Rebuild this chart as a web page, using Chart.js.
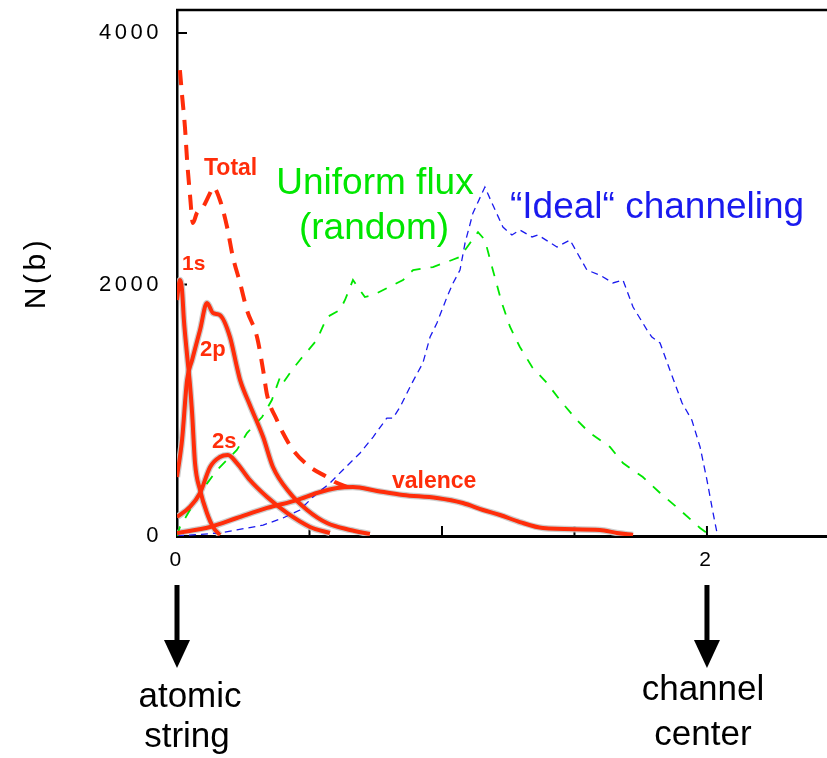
<!DOCTYPE html>
<html><head><meta charset="utf-8">
<script src="https://cdn.jsdelivr.net/npm/chart.js@4/dist/chart.umd.min.js"></script>
<style>html,body{margin:0;padding:0;background:#fff;}#wrap{width:827px;height:758px;}canvas{display:block;}</style>
</head><body><div id="wrap"><canvas id="c" width="827" height="758"></canvas></div>
<script>
// ---- data ----
const xTicks = [0, 0.5, 1, 1.5, 2];
const xTickLabels = ['0', '', '', '', '2'];
const yTicks = [0, 2000, 4000];
const yTickLabels = ['0', '2000', '4000'];

const uniformX = [0,0.011,0.087,0.151,0.226,0.264,0.321,0.358,0.389,0.4,0.434,0.464,0.528,0.566,0.615,0.634,0.664,0.709,0.74,0.815,0.853,0.891,0.966,1.038,1.068,1.106,1.136,1.162,1.192,1.226,1.257,1.294,1.34,1.396,1.445,1.509,1.558,1.634,1.683,1.758,1.823,1.898,1.974,2.0];
const uniformY = [0,72,342,525,684,819,946,1081,1264,1217,1320,1400,1559,1741,1797,1877,2036,1900,1916,1996,2036,2115,2139,2195,2219,2330,2417,2354,2115,1853,1662,1503,1344,1217,1081,922,819,708,580,469,342,207,64,24];

const idealX = [0,0.162,0.226,0.325,0.4,0.464,0.513,0.577,0.626,0.691,0.74,0.792,0.815,0.842,0.887,0.928,0.955,0.981,1.019,1.042,1.068,1.087,1.117,1.162,1.192,1.23,1.264,1.294,1.34,1.362,1.434,1.483,1.547,1.596,1.645,1.683,1.721,1.774,1.792,1.823,1.86,1.906,1.943,1.974,2.0,2.023,2.038];
const idealY = [0,24,48,87,143,207,310,421,525,660,787,938,938,1026,1217,1376,1582,1694,1901,2012,2115,2330,2569,2775,2632,2457,2394,2433,2378,2394,2298,2354,2115,2075,2012,2036,1821,1638,1582,1535,1320,1058,922,708,445,183,24];

const totalX = [0.011,0.019,0.03,0.038,0.049,0.06,0.075,0.098,0.125,0.136,0.162,0.189,0.211,0.238,0.264,0.302,0.325,0.34,0.377,0.4,0.438,0.502,0.566,0.596,0.653];
const totalY = [3705,3507,3252,2990,2712,2489,2569,2616,2728,2775,2672,2457,2219,2012,1797,1582,1320,1121,922,819,684,549,469,429,382];

const s1X = [0,0.011,0.019,0.026,0.038,0.049,0.057,0.068,0.087,0.113,0.136,0.162];
const s1Y = [1877,2036,1956,1718,1439,1201,978,580,366,183,72,8];

const p2X = [0,0.019,0.038,0.057,0.087,0.113,0.136,0.162,0.2,0.226,0.238,0.275,0.325,0.362,0.426,0.491,0.566,0.653,0.728];
const p2Y = [469,763,1241,1400,1638,1853,1773,1757,1582,1344,1241,1042,787,549,342,207,103,48,16];

const s2X = [0,0.049,0.087,0.125,0.162,0.192,0.226,0.275,0.34,0.415,0.502,0.577];
const s2Y = [151,231,342,549,628,644,580,445,310,183,72,24];

const valX = [0,0.125,0.226,0.34,0.453,0.528,0.604,0.664,0.755,0.853,0.981,1.079,1.155,1.219,1.294,1.381,1.596,1.66,1.721];
const valY = [24,72,143,223,286,342,382,390,358,326,302,262,207,167,111,64,48,24,8];

// ---- styles ----
const RED = '#ff2d0a', GREEN = '#00e600', BLUE = '#1a1aee', HALO = 'rgba(200,200,200,0.9)';
const pts = (xs, ys) => xs.map((x, i) => ({x: x, y: ys[i]}));

function redSet(label, xs, ys, dashed, halo) {
  return {
    label: label, data: pts(xs, ys),
    borderColor: halo ? HALO : RED,
    borderWidth: halo ? 6.5 : 4,
    borderDash: dashed ? [15, 10] : [],
    pointRadius: 0, cubicInterpolationMode: 'monotone', fill: false,
    order: halo ? 20 : 1
  };
}

const datasets = [
  {label:'Uniform flux (random)', data: pts(uniformX, uniformY), borderColor: GREEN, borderWidth: 1.8, borderDash:[10,10], pointRadius:0, tension:0, order:5},
  {label:'Ideal channeling', data: pts(idealX, idealY), borderColor: BLUE, borderWidth: 1.3, borderDash:[7,5], pointRadius:0, tension:0, order:6},
  redSet('1s halo', s1X, s1Y, false, true),
  redSet('2p halo', p2X, p2Y, false, true),
  redSet('2s halo', s2X, s2Y, false, true),
  redSet('valence halo', valX, valY, false, true),
  redSet('Total', totalX, totalY, true, false),
  redSet('1s', s1X, s1Y, false, false),
  redSet('2p', p2X, p2Y, false, false),
  redSet('2s', s2X, s2Y, false, false),
  redSet('valence', valX, valY, false, false)
];

const labelsPlugin = {
  id: 'labels',
  beforeDraw(chart) { chart.ctx.letterSpacing = '3.5px'; },
  beforeDatasetsDraw(chart) {
    chart.ctx.letterSpacing = '0px';
    const {ctx, chartArea: a, scales: {x, y}} = chart;
    ctx.save();
    ctx.strokeStyle = '#000'; ctx.lineWidth = 2;
    xTicks.forEach(v => { const px = x.getPixelForValue(v); ctx.beginPath(); ctx.moveTo(px, a.bottom); ctx.lineTo(px, a.bottom - 10); ctx.stroke(); });
    yTicks.forEach(v => { const py = y.getPixelForValue(v); ctx.beginPath(); ctx.moveTo(a.left, py); ctx.lineTo(a.left + 10, py); ctx.stroke(); });
    ctx.lineWidth = 2.5;
    ctx.beginPath(); ctx.moveTo(a.left - 1, a.top); ctx.lineTo(a.right, a.top); ctx.stroke();
    ctx.restore();
  },
  afterDraw(chart) {
    const {ctx, scales: {x}} = chart;
    ctx.save();
    ctx.letterSpacing = '0px';
    ctx.textBaseline = 'alphabetic';
    ctx.fillStyle = RED; ctx.textAlign = 'left';
    ctx.font = 'bold 23px "Liberation Sans", Arial, sans-serif';
    ctx.fillText('Total', 204, 175);
    ctx.font = 'bold 21px "Liberation Sans", Arial, sans-serif';
    ctx.fillText('1s', 182, 270);
    ctx.font = 'bold 22px "Liberation Sans", Arial, sans-serif';
    ctx.fillText('2p', 200, 356);
    ctx.fillText('2s', 212, 448);
    ctx.font = 'bold 23px "Liberation Sans", Arial, sans-serif';
    ctx.fillText('valence', 392, 488);
    ctx.fillStyle = GREEN; ctx.textAlign = 'center';
    ctx.font = '37px "Liberation Sans", Arial, sans-serif';
    ctx.fillText('Uniform flux', 375, 194);
    ctx.fillText('(random)', 374, 239);
    ctx.fillStyle = BLUE; ctx.textAlign = 'left';
    ctx.font = '37px "Liberation Sans", Arial, sans-serif';
    ctx.fillText('\u201CIdeal\u201C channeling', 510, 218);
    ctx.fillStyle = '#000';
    [0, 2].forEach(v => {
      const px = x.getPixelForValue(v);
      ctx.fillRect(px - 2.5, 585, 5, 60);
      ctx.beginPath(); ctx.moveTo(px - 13, 640); ctx.lineTo(px + 13, 640); ctx.lineTo(px, 668); ctx.closePath(); ctx.fill();
    });
    ctx.textAlign = 'center';
    ctx.font = '35px "Liberation Sans", Arial, sans-serif';
    const p0 = x.getPixelForValue(0), p2 = x.getPixelForValue(2);
    ctx.fillText('atomic', p0 + 13, 707);
    ctx.fillText('string', p0 + 10, 747);
    ctx.fillText('channel', p2 - 4, 700);
    ctx.fillText('center', p2 - 4, 745);
    ctx.restore();
  }
};

new Chart(document.getElementById('c'), {
  type: 'line',
  data: {datasets: datasets},
  options: {
    responsive: false, animation: false, devicePixelRatio: 1,
    layout: {padding: {top: 10, left: 0, right: 0, bottom: 0}},
    plugins: {legend: {display: false}, tooltip: {enabled: false}},
    scales: {
      x: {
        type: 'linear', min: 0, max: 2.453,
        afterFit(s) { s.height = 222; s.paddingLeft = 0; s.paddingRight = 0; },
        afterBuildTicks(s) { s.ticks = xTicks.map(v => ({value: v})); },
        grid: {display: false, drawTicks: false},
        border: {display: true, color: '#000', width: 3},
        ticks: {
          autoSkip: false, maxRotation: 0, padding: 12, color: '#000',
          font: {family: '"Liberation Sans", Arial, sans-serif', size: 21},
          callback: (v, i) => xTickLabels[i]
        }
      },
      y: {
        type: 'linear', min: 0, max: 4183,
        afterFit(s) { s.width = 177; s.paddingTop = 0; s.paddingBottom = 0; },
        afterBuildTicks(s) { s.ticks = yTicks.map(v => ({value: v})); },
        grid: {display: false, drawTicks: false},
        border: {display: true, color: '#000', width: 2.5},
        ticks: {
          padding: 15, color: '#000',
          font: {family: '"Liberation Sans", Arial, sans-serif', size: 22},
          callback: (v, i) => yTickLabels[i]
        },
        title: {
          display: true, text: 'N(b)', color: '#000',
          font: {family: '"Liberation Sans", Arial, sans-serif', size: 30},
          padding: {top: 19, bottom: 0}
        }
      }
    }
  },
  plugins: [labelsPlugin]
});
</script>
</body></html>
